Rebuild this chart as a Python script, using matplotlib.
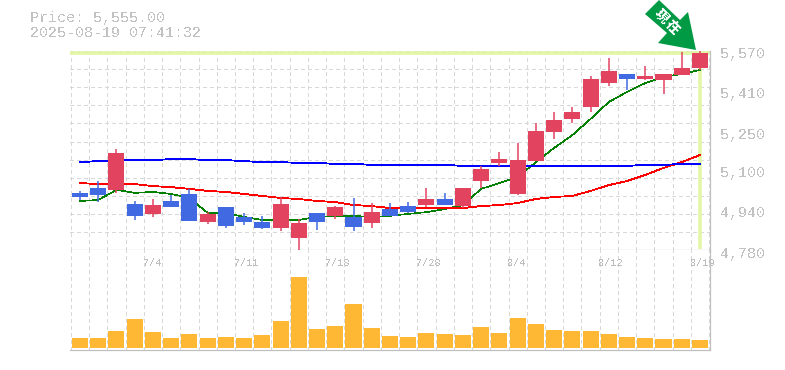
import matplotlib
matplotlib.use("Agg")
import matplotlib.pyplot as plt
from matplotlib.patches import Polygon, Rectangle

plt.rcParams["font.family"] = ["Liberation Mono", "DejaVu Sans Mono"]
plt.rcParams["text.antialiased"] = False

W, H = 785, 370

# precios (velas)
opens = [5008, 5027, 5020, 4964, 4925, 4976, 5004, 4893, 4952, 4913, 4893, 4869, 4830, 4929, 4917, 4913, 4889, 4944,
         4956, 4960, 4984, 4956, 5055, 5127, 5004, 5134, 5249, 5301, 5348, 5443, 5479, 5459, 5455, 5475, 5503]
highs = [5016, 5055, 5182, 4976, 4984, 5000, 5024, 4932, 4952, 4929, 4917, 4992, 4905, 4929, 4956, 4988, 4968, 4968,
         4972, 5027, 5008, 5027, 5115, 5170, 5206, 5285, 5328, 5348, 5471, 5542, 5479, 5511, 5479, 5566, 5570]
lows = [4980, 4972, 5008, 4901, 4913, 4952, 4897, 4885, 4869, 4881, 4865, 4857, 4782, 4861, 4905, 4857, 4869, 4917,
        4929, 4952, 4960, 4948, 5027, 5115, 5000, 5134, 5222, 5285, 5328, 5431, 5416, 5455, 5400, 5475, 5495]
closes = [4992, 5000, 5166, 4917, 4960, 4952, 4897, 4925, 4877, 4893, 4869, 4964, 4889, 4893, 4952, 4873, 4932, 4917,
          4932, 4984, 4960, 5027, 5103, 5142, 5138, 5253, 5297, 5328, 5459, 5491, 5459, 5471, 5479, 5503, 5562]
volumes = [10, 10, 17, 29, 16, 10, 14, 10, 11, 10, 13, 27, 71, 19, 22, 44, 20, 12,
           11, 15, 14, 13, 21, 15, 30, 24, 18, 17, 17, 14, 11, 10, 9, 9, 8]

# medias moviles
ma_short = [4976, 4980, 5020, 5008, 5012, 5004, 4988, 4929, 4929, 4913, 4901, 4901, 4901, 4913, 4917, 4917, 4913, 4917,
            4925, 4932, 4944, 4960, 5024, 5047, 5071, 5130, 5186, 5237, 5301, 5368, 5408, 5443, 5467, 5479, 5495]
ma_mid = [5047, 5043, 5043, 5043, 5035, 5031, 5024, 5016, 5012, 5004, 4996, 4988, 4984, 4976, 4972, 4960, 4956, 4948,
          4948, 4948, 4948, 4948, 4956, 4960, 4968, 4984, 4992, 4996, 5016, 5039, 5055, 5079, 5107, 5130, 5158]
ma_long = [5130, 5134, 5136, 5138, 5138, 5142, 5142, 5138, 5138, 5134, 5130, 5130, 5127, 5127, 5123, 5123, 5119, 5119,
           5119, 5119, 5119, 5115, 5115, 5115, 5115, 5115, 5115, 5115, 5115, 5115, 5115, 5119, 5119, 5123, 5123]

y_ticks = [5570, 5410, 5250, 5100, 4940, 4780]
y_labels = ["5,570", "5,410", "5,250", "5,100", "4,940", "4,780"]
date_pos = [4, 9, 14, 19, 24, 29, 34]
date_labels = ["7/4", "7/11", "7/18", "7/28", "8/4", "8/12", "8/19"]
last_price = 5562

TEXT = "#c2c2c2"
GRID = "#d8d8d8"
EDGE = "#c0c0c0"
UP = "#e24460"
DOWN = "#4169e1"
BAR = "#ffb833"
MARK = "#e3f6a6"

fig = plt.figure(figsize=(W / 100, H / 100), dpi=100)
ax = fig.add_axes([70 / W, 1 - 250 / H, 640 / W, 199 / H])
vol = fig.add_axes([70 / W, 1 - 350 / H, 640 / W, 100 / H])

xmin, xmax = -0.548, 34.55
n = len(closes)

for a in (ax, vol):
    a.set_xlim(xmin, xmax)
    a.set_xticks([i + 0.5 for i in range(-1, n)])
    a.tick_params(length=0, labelbottom=False, labelleft=False)
    a.grid(True, color=GRID, linewidth=0.72, linestyle=(0, (3, 3)), antialiased=False)
    a.set_axisbelow(True)
    for s in ("top", "left"):
        a.spines[s].set_visible(False)
    for s in ("bottom", "right"):
        a.spines[s].set_color(EDGE)
        a.spines[s].set_linewidth(0.9)

ax.set_ylim(4782, 5570)
ax.set_yticks([4782 + 71.6 * i for i in range(12)])
vol.set_ylim(-2, 98)
vol.set_yticks([])

# linea del ultimo precio
ax.plot([xmin, xmax], [last_price, last_price], color=MARK, lw=2.6, zorder=1, clip_on=False, solid_capstyle="butt")
ax.plot([34, 34], [last_price, 4785], color=MARK, lw=2.6, zorder=1, solid_capstyle="butt")

xs = list(range(n))
ax.plot(xs, ma_short, color="#008000", lw=0.45, zorder=2, antialiased=False)
ax.plot(xs, ma_mid, color="#ff0000", lw=0.6, zorder=2, antialiased=False)
ax.plot(xs, ma_long, color="#0000ff", lw=0.6, zorder=2, antialiased=False)

for i in xs:
    c = UP if closes[i] >= opens[i] else DOWN
    ax.vlines(i, lows[i], highs[i], color=c, lw=1.1, zorder=3)
    ax.add_patch(Rectangle((i - 0.44, min(opens[i], closes[i])), 0.88, abs(closes[i] - opens[i]),
                           facecolor=c, edgecolor="none", zorder=4))

vol.bar(xs, volumes, width=0.88, color=BAR, zorder=3)

for v, t in zip(y_ticks, y_labels):
    ax.annotate(t, xy=(1, v), xycoords=("axes fraction", "data"), xytext=(10, -3), textcoords="offset pixels",
                color=TEXT, fontsize=10.8, ha="left", va="center", annotation_clip=False)

for p, t in zip(date_pos, date_labels):
    vol.annotate(t, xy=(p, 1), xycoords=("data", "axes fraction"), xytext=(-10, -13), textcoords="offset pixels",
                 color="#bdbdbd", fontsize=7.4, ha="left", va="center")

fig.text(30 / W, 1 - 18 / H, "Price: 5,555.00", color=TEXT, fontsize=10.8, va="center")
fig.text(30 / W, 1 - 33 / H, "2025-08-19 07:41:32", color=TEXT, fontsize=10.8, va="center")

# flecha verde
arrow = [(645, 14), (659, 0), (680, 20), (688, 12), (696, 50), (658, 43), (667, 33)]
fig.add_artist(Polygon([(x / W, 1 - y / H) for x, y in arrow], closed=True, transform=fig.transFigure,
                       facecolor="#009944", edgecolor="none", zorder=10))
fig.text(661 / W, 1 - 16 / H, "現", color="white", fontsize=10, rotation=-45, ha="center", va="center",
         family=["Noto Sans CJK JP", "DejaVu Sans"], fontweight="bold", zorder=11)
fig.text(672 / W, 1 - 27 / H, "在", color="white", fontsize=10, rotation=-45, ha="center", va="center",
         family=["Noto Sans CJK JP", "DejaVu Sans"], fontweight="bold", zorder=11)

fig.savefig("out.png", dpi=100)
